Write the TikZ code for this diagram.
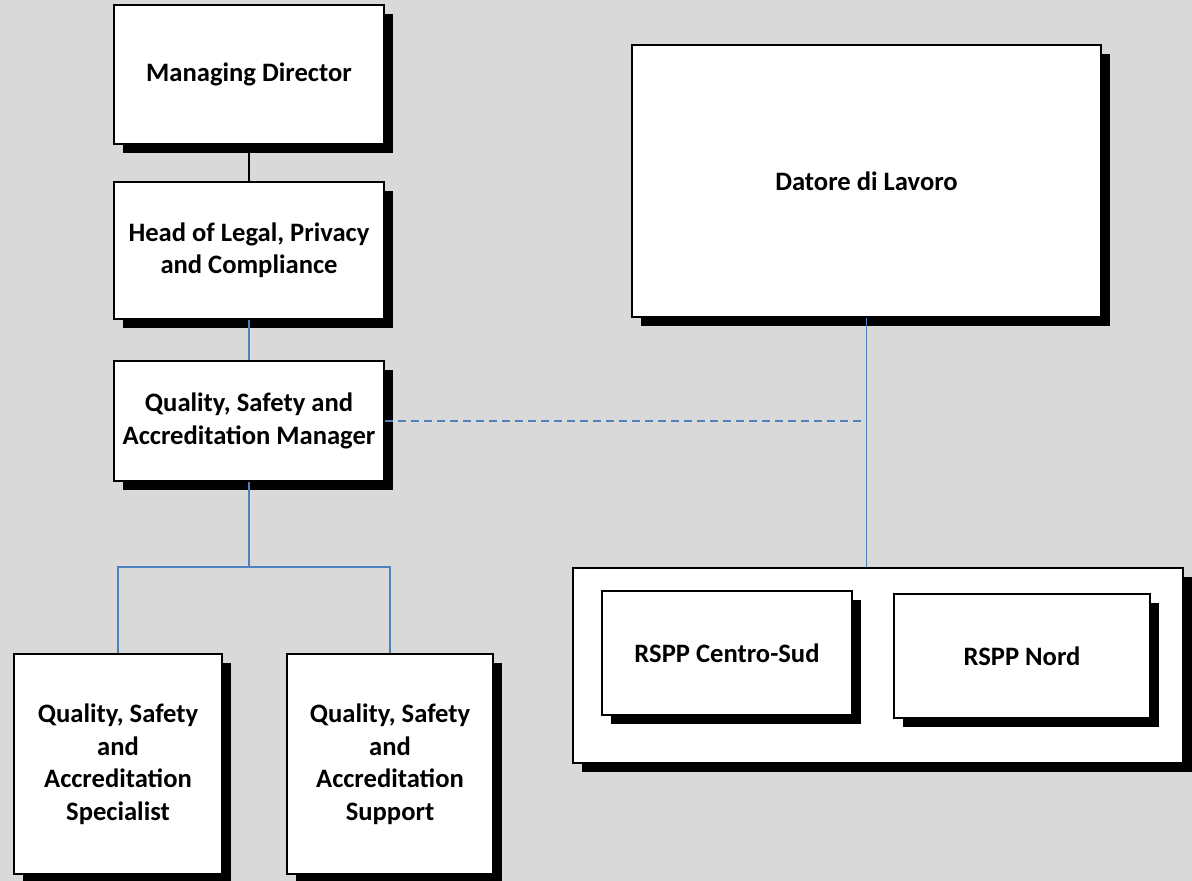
\documentclass[tikz,border=0pt]{standalone}
\usepackage{fontspec}
\setmainfont{Carlito}
\usetikzlibrary{shadows,calc}
\definecolor{bg}{HTML}{D9D9D9}
\definecolor{linkblue}{HTML}{4F81BD}
\begin{document}
\begin{tikzpicture}[x=1pt,y=-1pt,
  box/.style={draw=black, line width=2pt, fill=white, inner sep=0pt, align=center,
    font=\fontsize{26.6}{32.5}\selectfont\bfseries,
    drop shadow={shadow xshift=9pt, shadow yshift=-9pt, fill=black, opacity=1}},
  bluelink/.style={draw=linkblue, line width=1.4pt},
  blacklink/.style={draw=black, line width=1.4pt},
  dashlink/.style={draw=linkblue, line width=1.4pt, dash pattern=on 8pt off 5pt}]
\fill[bg] (0,0) rectangle (1192,881);
\useasboundingbox (0,0) rectangle (1192,881);

\node[box, minimum width=270, minimum height=139] (md) at (249,74.5) {Managing Director};
\node[box, minimum width=270, minimum height=137] (head) at (249,250.5) {Head of Legal, Privacy\\and Compliance};
\node[box, minimum width=270, minimum height=120] (qsa) at (249,421) {Quality, Safety and\\Accreditation Manager};
\node[box, minimum width=469, minimum height=272] (dat) at (866.5,181) {Datore di Lavoro};
\node[box, minimum width=208, minimum height=220] (spec) at (118,764) {Quality, Safety\\and\\Accreditation\\Specialist};
\node[box, minimum width=206, minimum height=220] (sup) at (390,764) {Quality, Safety\\and\\Accreditation\\Support};
\node[box, minimum width=610, minimum height=195] (rspp) at (878,665.5) {};
\node[box, minimum width=250, minimum height=124] (cs) at (727,653) {RSPP Centro-Sud};
\node[box, minimum width=256, minimum height=124] (nord) at (1022,656) {RSPP Nord};

\coordinate (br) at (249,567);
\draw[blacklink] (md.south) -- (head.north);
\draw[bluelink] (head.south) -- (qsa.north);
\draw[bluelink] (qsa.south) -- (br);
\draw[bluelink] (br) -| (spec.north);
\draw[bluelink] (br) -| (sup.north);
\draw[bluelink] (dat.south) -- (dat.south |- rspp.north);
\coordinate (dj) at (qsa.east -| dat.south);
\draw[dashlink] (qsa.east) -- (dj);
\end{tikzpicture}
\end{document}
